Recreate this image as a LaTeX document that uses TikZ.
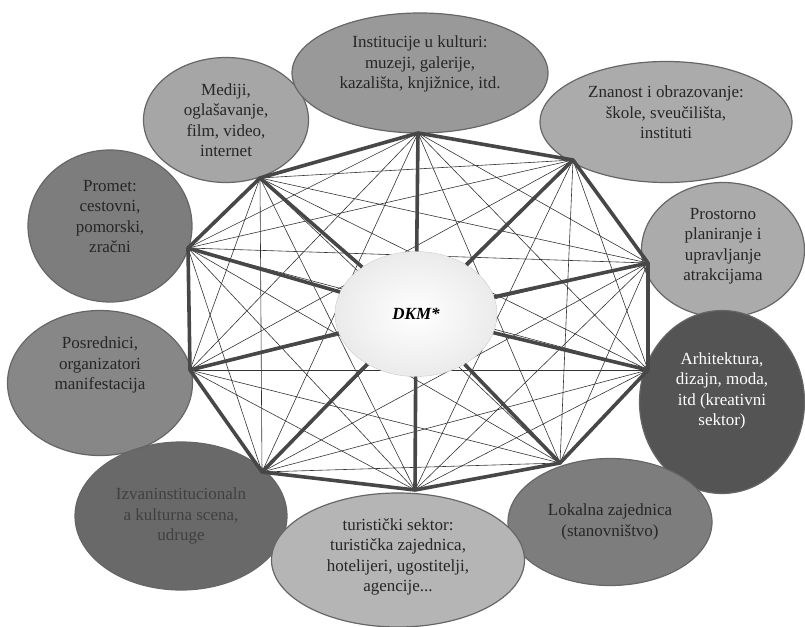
\documentclass[tikz,border=0pt]{standalone}
\usepackage{fontspec}
\setmainfont{Liberation Serif}
\usetikzlibrary{shapes.geometric}

% text block set higher than the middle of its ellipse
\newcommand\lifted[2]{\raisebox{#1}[\height][\depth]{\begin{tabular}{@{}c@{}}#2\end{tabular}}}

\tikzset{
  sector/.style={ellipse, draw=black!60, line width=1.2pt, inner sep=0pt,
    align=center, text=black!85, font=\fontsize{17}{20.5}\selectfont},
  chord/.style={black!80, line width=0.6pt},
  link/.style={black!72, line width=3.6pt, line join=round},
  hub/.style={ellipse, draw=black!20, inner color=white, outer color=black!8,
    minimum width=162pt, minimum height=125pt,
    font=\fontsize{17}{20}\selectfont\bfseries\itshape}
}

\begin{document}
\begin{tikzpicture}[x=1pt, y=-1pt]

  \useasboundingbox (0,0) rectangle (805,626);

  % Define nodes
  \node[sector, fill=black!51, minimum width=164pt, minimum height=152pt] (prom) at (110,226) {\lifted{8pt}{Promet:\\cestovni,\\pomorski,\\zračni}};
  \node[sector, fill=black!47, minimum width=185pt, minimum height=145pt] (posr) at (100,383) {\lifted{18pt}{Posrednici,\\organizatori\\manifestacija}};
  \node[sector, fill=black!59, text=black!75, minimum width=212pt, minimum height=148pt] (izv) at (181,516) {Izvaninstitucionaln\\a kulturna scena,\\udruge};
  \node[sector, fill=black!35, minimum width=165pt, minimum height=125pt] (med) at (226,120) {Mediji,\\oglašavanje,\\film, video,\\internet};
  \node[sector, fill=black!40, minimum width=256pt, minimum height=120pt] (inst) at (420,73) {\lifted{9pt}{Institucije u kulturi:\\muzeji, galerije,\\kazališta, knjižnice, itd.}};
  \node[sector, fill=black!33, minimum width=252pt, minimum height=121pt] (znan) at (666,122) {\lifted{8pt}{Znanost i obrazovanje:\\škole, sveučilišta,\\instituti}};
  \node[sector, fill=black!33, minimum width=163pt, minimum height=135pt] (prost) at (723,250) {\lifted{4pt}{Prostorno\\planiranje i\\upravljanje\\atrakcijama}};
  \node[sector, fill=black!67, text=white, minimum width=165pt, minimum height=183pt] (arh) at (722,402) {\lifted{11pt}{Arhitektura,\\dizajn, moda,\\itd (kreativni\\sektor)}};
  \node[sector, fill=black!51, minimum width=204pt, minimum height=127pt] (lok) at (610,522) {Lokalna zajednica\\(stanovništvo)};
  \node[sector, fill=black!29, minimum width=253pt, minimum height=134pt] (tur) at (398,560) {\lifted{3pt}{turistički sektor:\\turistička zajednica,\\hotelijeri, ugostitelji,\\agencije...}};

  % Corners of the network
  \coordinate (p1) at (418,133);
  \coordinate (p2) at (573,160);
  \coordinate (p3) at (648,263);
  \coordinate (p4) at (648,370);
  \coordinate (p5) at (560,463);
  \coordinate (p6) at (415,490);
  \coordinate (p7) at (262,472);
  \coordinate (p8) at (190,370);
  \coordinate (p9) at (188,248);
  \coordinate (p10) at (260,178);

  % Connect the nodes
  \foreach \i in {1,...,9} {
    \pgfmathtruncatemacro\k{\i+1}
    \foreach \j in {\k,...,10}
      \draw[chord] (p\i) -- (p\j);
  }
  \draw[link] (p1) -- (p2) -- (p3) -- (p4) -- (p5) -- (p6) -- (p7) -- (p8) -- (p9) -- (p10) -- cycle;

  \node[hub] (dkm) at (416,314) {DKM*};
  \foreach \i in {1,...,10}
    \draw[link] (p\i) -- (dkm);

\end{tikzpicture}
\end{document}
